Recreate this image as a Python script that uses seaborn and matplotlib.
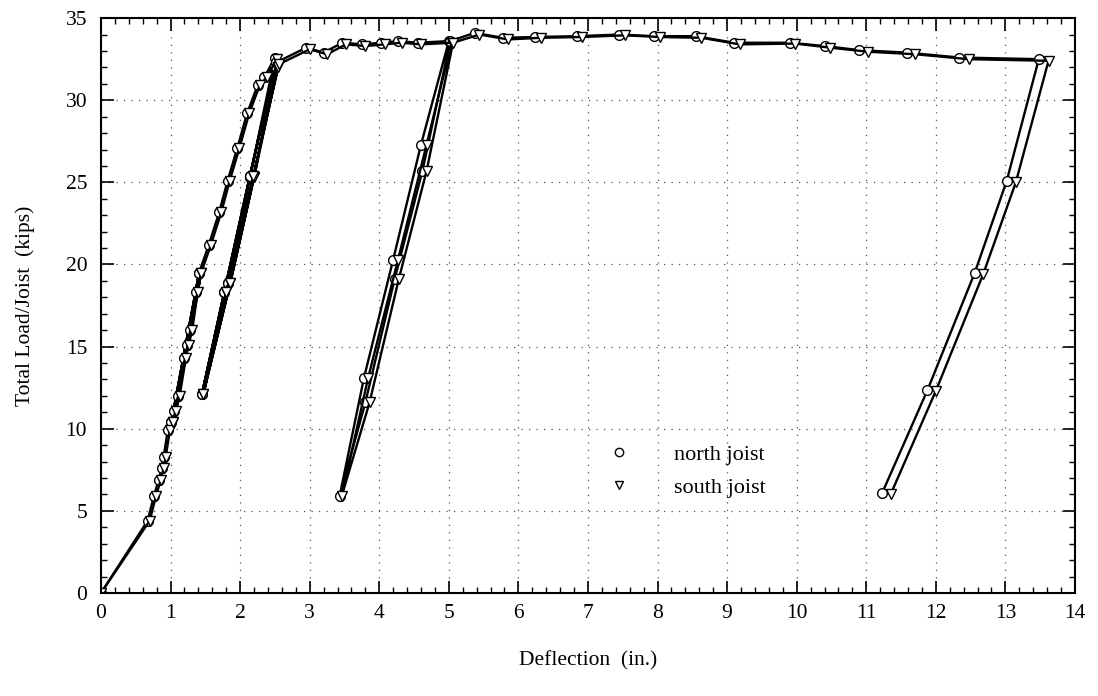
import matplotlib
matplotlib.use("Agg")
import matplotlib.pyplot as plt
import seaborn as sns
import pandas as pd
from matplotlib.lines import Line2D
from matplotlib.ticker import MultipleLocator

# ---- data (deflection in., load kips) ----
north_x = [0.0, 0.67, 0.76, 0.83, 0.87, 0.90, 0.96, 1.01, 1.05, 1.10, 1.19, 1.23, 1.28, 1.36, 1.41,
           1.01, 1.41,
           1.55, 1.70, 1.82, 1.96, 2.10, 2.25, 2.35, 2.50,
           2.14, 1.82, 1.45, 1.77, 2.14, 2.50, 2.14, 1.82, 1.45, 1.77, 2.14, 2.52,
           2.95, 3.20, 3.47, 3.75, 4.03, 4.27, 4.55, 5.00,
           4.60, 4.20, 3.78, 3.43, 3.80, 4.22, 4.62, 5.02,
           5.37, 5.78, 6.24, 6.84, 7.45, 7.95, 8.55, 9.10, 9.90, 10.40, 10.90, 11.58, 12.34, 13.48,
           13.02, 12.56, 11.88, 11.23]
north_y = [0.0, 4.4, 5.9, 6.9, 7.6, 8.3, 9.9, 10.4, 11.1, 12.0, 14.3, 15.1, 16.0, 18.3, 19.5,
           10.4, 19.5,
           21.2, 23.2, 25.1, 27.1, 29.2, 30.9, 31.4, 32.6,
           25.3, 18.9, 12.1, 18.3, 25.4, 32.1, 25.3, 18.9, 12.1, 18.3, 25.4, 32.3,
           33.2, 32.9, 33.5, 33.4, 33.5, 33.6, 33.5, 33.6,
           27.3, 20.3, 13.1, 5.9, 11.6, 19.1, 25.7, 33.6,
           34.1, 33.8, 33.85, 33.9, 34.0, 33.9, 33.9, 33.5, 33.5, 33.3, 33.05, 32.9, 32.6, 32.5,
           25.1, 19.5, 12.35, 6.1]

south_x = [0.0, 0.70, 0.79, 0.86, 0.90, 0.93, 0.99, 1.04, 1.08, 1.13, 1.22, 1.26, 1.31, 1.39, 1.44,
           1.04, 1.44,
           1.58, 1.73, 1.85, 1.99, 2.13, 2.28, 2.38, 2.53,
           2.20, 1.86, 1.47, 1.80, 2.19, 2.54, 2.20, 1.86, 1.47, 1.80, 2.19, 2.56,
           3.00, 3.25, 3.52, 3.80, 4.08, 4.32, 4.60, 5.04,
           4.68, 4.27, 3.84, 3.46, 3.86, 4.28, 4.68, 5.06,
           5.44, 5.85, 6.32, 6.92, 7.53, 8.03, 8.63, 9.18, 9.98, 10.48, 11.03, 11.70, 12.47, 13.62,
           13.15, 12.68, 12.00, 11.35]
south_y = [0.0, 4.4, 5.9, 6.9, 7.6, 8.3, 9.9, 10.4, 11.1, 12.0, 14.3, 15.1, 16.0, 18.3, 19.5,
           10.4, 19.5,
           21.2, 23.2, 25.1, 27.1, 29.2, 30.9, 31.4, 32.5,
           25.3, 18.9, 12.1, 18.3, 25.4, 32.0, 25.3, 18.9, 12.1, 18.3, 25.4, 32.2,
           33.1, 32.8, 33.4, 33.3, 33.4, 33.5, 33.4, 33.5,
           27.3, 20.3, 13.1, 5.9, 11.6, 19.1, 25.7, 33.5,
           34.0, 33.7, 33.8, 33.85, 33.95, 33.85, 33.8, 33.4, 33.45, 33.2, 32.95, 32.8, 32.5, 32.4,
           25.0, 19.4, 12.3, 6.0]

labels = ["north joist", "south joist"]

df_n = pd.DataFrame({"x": north_x, "y": north_y})
df_s = pd.DataFrame({"x": south_x, "y": south_y})

sns.set_style("ticks")
plt.rcParams["font.family"] = ["Liberation Serif", "DejaVu Serif"]
plt.rcParams["text.color"] = "black"
plt.rcParams["axes.labelcolor"] = "black"
plt.rcParams["xtick.color"] = "black"
plt.rcParams["ytick.color"] = "black"

fig = plt.figure(figsize=(10.98, 6.96), dpi=100)
ax = fig.add_axes([0.092, 0.148, 0.887, 0.826])

common = dict(x="x", y="y", sort=False, estimator=None, color="black",
              linewidth=1.7, markerfacecolor="white", markeredgecolor="black",
              markeredgewidth=1.0, ax=ax, legend=False)
sns.lineplot(data=df_n, marker="o", markersize=7, **common)
sns.lineplot(data=df_s, marker="v", markersize=7, **common)

ax.set_xlim(0, 14)
ax.set_ylim(0, 35)
ax.xaxis.set_major_locator(MultipleLocator(1))
ax.xaxis.set_minor_locator(MultipleLocator(0.2))
ax.yaxis.set_major_locator(MultipleLocator(5))
ax.yaxis.set_minor_locator(MultipleLocator(1))
ax.tick_params(which="both", direction="in", top=True, right=True, colors="black",
               labelsize=15.5)
ax.tick_params(which="major", length=9, width=1.2)
ax.tick_params(which="minor", length=4.5, width=1.0)
ax.tick_params(axis="x", pad=8)
ax.tick_params(axis="y", pad=10)
for s in ax.spines.values():
    s.set_color("black")
    s.set_linewidth(1.5)
    s.set_visible(True)
ax.grid(True, which="major", linestyle=(0, (1, 5)), color="#555555", linewidth=0.9)

ax.set_xlabel("Deflection  (in.)", fontsize=15.5, labelpad=20)
ax.set_ylabel("Total Load/Joist  (kips)", fontsize=15.5, labelpad=22)

handles = [Line2D([], [], linestyle="none", marker="o", markersize=6,
                  markerfacecolor="white", markeredgecolor="black"),
           Line2D([], [], linestyle="none", marker="v", markersize=6,
                  markerfacecolor="white", markeredgecolor="black")]
ax.legend(handles, labels, loc="upper left", bbox_to_anchor=(0.488, 0.293),
          frameon=False, fontsize=16, handletextpad=1.5, labelspacing=0.55)

fig.savefig("out.png", dpi=100, facecolor="white")
